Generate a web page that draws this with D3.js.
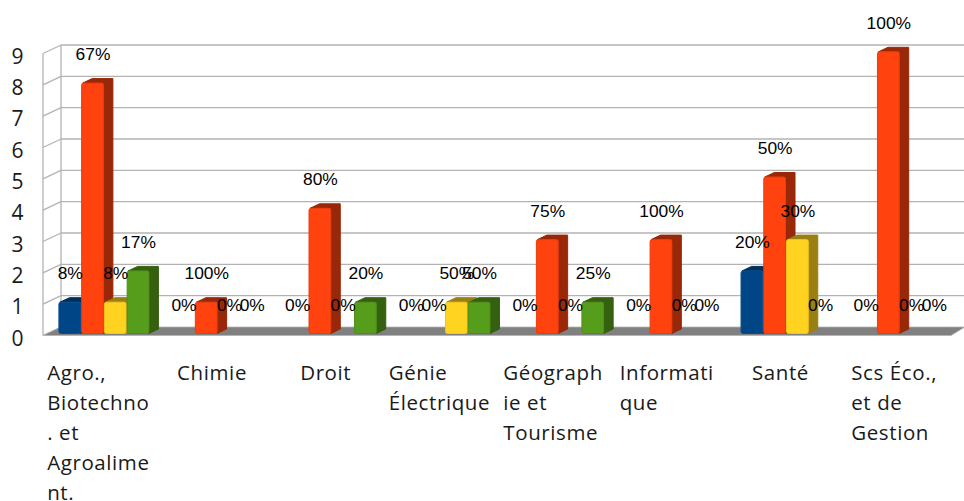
<!DOCTYPE html>
<html><head><meta charset="utf-8">
<script src="https://cdn.jsdelivr.net/npm/d3@7/dist/d3.min.js"></script>
<style>html,body{margin:0;background:#fff}svg{display:block}</style></head>
<body><svg id="c" width="964" height="501"></svg>
<script>
const categories=["Agro., Biotechno . et Agroalime nt.","Chimie","Droit","Génie Électrique","Géograph ie et Tourisme","Informati que","Santé","Scs Éco., et de Gestion"];
const categoryLines=[["Agro.,","Biotechno",". et","Agroalime","nt."],["Chimie"],["Droit"],["Génie","Électrique"],["Géograph","ie et","Tourisme"],["Informati","que"],["Santé"],["Scs Éco.,","et de","Gestion"]];
const seriesNames=["s1","s2","s3","s4"];
const blueValues=[1,0,0,0,0,0,2,0];
const orangeValues=[8,1,4,0,3,3,5,9];
const yellowValues=[1,0,0,1,0,0,3,0];
const greenValues=[2,0,1,1,1,0,0,0];
const bluePct=["8%","0%","0%","0%","0%","0%","20%","0%"];
const orangePct=["67%","100%","80%","0%","75%","100%","50%","100%"];
const yellowPct=["8%","0%","0%","50%","0%","0%","30%","0%"];
const greenPct=["17%","0%","20%","50%","25%","0%","0%","0%"];
const yTicks=[0,1,2,3,4,5,6,7,8,9];
const faces=["#004586","#ff420e","#ffd320","#579d1c"];
const edges=["#0a4f90","#ea3d0d","#eec41e","#4f8f1a"];
const sides=["#002f5c","#992808","#9a7f12","#34600f"];

const values=[blueValues,orangeValues,yellowValues,greenValues];
const pcts=[bluePct,orangePct,yellowPct,greenPct];
const svg=d3.select("#c");
const backY=d3.scaleLinear().domain([0,9]).range([327,45]);
const frontY=d3.scaleLinear().domain([0,9]).range([335.5,53.5]);
const barY=d3.scaleLinear().domain([0,9]).range([333.5,51.8]);
const x0=d3.scaleBand().domain(categories).range([47.5,957]);
const x1=d3.scaleBand().domain(seriesNames).range([11.4,102.4]);
const wallL=43,wallB=61,wallR=965,floorR=951;
const grid="#b3b3b3";

const g=svg.append("g").attr("fill","none").attr("stroke",grid).attr("stroke-width",1.3);
g.selectAll("line.h").data(yTicks.filter(d=>d>0)).join("line").attr("x1",wallB).attr("x2",wallR).attr("y1",backY).attr("y2",backY);
g.selectAll("line.d").data(yTicks).join("line").attr("x1",wallL).attr("x2",wallB).attr("y1",frontY).attr("y2",backY);
g.append("line").attr("x1",wallL).attr("x2",wallL).attr("y1",frontY(9)).attr("y2",frontY(0));
g.append("line").attr("x1",wallB).attr("x2",wallB).attr("y1",backY(9)).attr("y2",backY(0));
svg.append("path").attr("fill","#808080").attr("stroke",grid).attr("stroke-width",.8)
 .attr("d",`M${wallL},${frontY(0)}L${wallB},${backY(0)}L${wallR},${backY(0)}L${floorR},${frontY(0)}Z`);

const dx=9.5,dy=-4.5;
const bars=svg.append("g");
categories.forEach((c,i)=>{
 seriesNames.forEach((s,k)=>{
  const v=values[k][i]; if(!v) return;
  const x=x0(c)+x1(s),w=x1.bandwidth()-1,t=barY(v),b=barY(0);
  bars.append("path").attr("fill",sides[k]).attr("stroke",sides[k]).attr("stroke-width",1).attr("stroke-linejoin","round")
   .attr("d",`M${x+1},${t}L${x+1+dx},${t+dy}L${x+w+dx},${t+dy}L${x+w+dx},${b+dy}L${x+w},${b}L${x+w},${t}Z`);
  bars.append("rect").attr("x",x).attr("y",t).attr("width",w).attr("height",b-t).attr("rx",2)
   .attr("fill",faces[k]).attr("stroke",edges[k]).attr("stroke-width",1);
 });
});

const labels=svg.append("g").attr("font-family","'Liberation Sans',Arial,sans-serif").attr("font-size",17.4).attr("text-anchor","middle").attr("fill","#000");
categories.forEach((c,i)=>{
 seriesNames.forEach((s,k)=>{
  labels.append("text").attr("x",x0(c)+x1(s)+x1.bandwidth()/2).attr("y",barY(values[k][i])-29).attr("dy","0.35em").text(pcts[k][i]);
 });
});

const axis=svg.append("g").attr("transform","translate(27.5,3)").call(d3.axisLeft(frontY).tickValues(yTicks).tickSize(0).tickPadding(4).tickFormat(d3.format("d")));
axis.select(".domain").remove();
axis.selectAll("text").attr("font-family","'Open Sans',sans-serif").attr("font-size",21).attr("fill","#1a1a1a");

const catG=svg.append("g").attr("font-family","'Open Sans',sans-serif").attr("font-size",20.5).attr("letter-spacing",.6).attr("fill","#1a1a1a");
categories.forEach((c,i)=>{
 const t=catG.append("text");
 categoryLines[i].forEach((l,j)=>t.append("tspan").attr("x",0).attr("y",380+j*30).text(l));
 const w=t.node().getBBox().width;
 t.selectAll("tspan").attr("x",x0(c)+x0.bandwidth()/2-6-w/2);
});
</script></body></html>
